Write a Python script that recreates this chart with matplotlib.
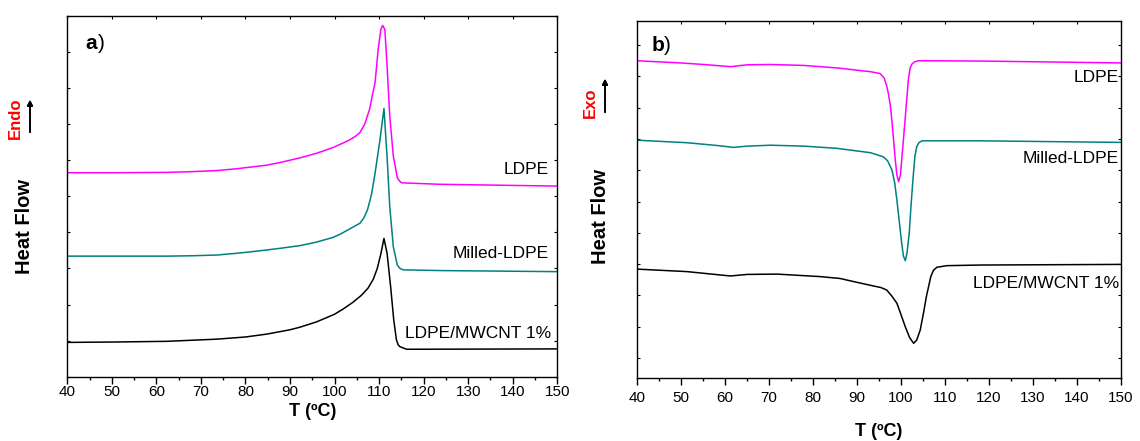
import numpy as np
import matplotlib.pyplot as plt
from matplotlib.ticker import MultipleLocator, FixedLocator

plt.rcParams['font.family'] = ['Liberation Sans', 'DejaVu Sans']

# Heating scans (a): temperature in ºC, heat flow in arbitrary units
t_ldpe_h = [40, 50, 62.4, 68, 73.6, 78, 84.8, 88, 92.2, 96.0, 99.7, 101.5, 103.4, 104.6, 105.7,
            106.8, 107.9, 108.5, 109.1, 109.8, 110.4, 110.8, 111.3, 111.8, 112.4, 113.2, 114.1,
            114.6, 115.1, 123.7, 150]
hf_ldpe_h = [5.65, 5.65, 5.66, 5.68, 5.71, 5.76, 5.86, 5.94, 6.06, 6.19, 6.35, 6.45, 6.56, 6.65,
             6.76, 7.0, 7.42, 7.8, 8.14, 9.07, 9.62, 9.73, 9.62, 8.61, 7.22, 6.11, 5.51,
             5.42, 5.37, 5.33, 5.28]

t_milled_h = [40, 50, 62.4, 68, 73.6, 79, 84.8, 88, 92.2, 96.0, 99.7, 101.6, 103.5, 105.7, 106.6,
              107.4, 108.3, 109.1, 110.2, 111.1, 111.8, 112.4, 113.2, 114.1, 114.7, 115.4,
              123.7, 150]
hf_milled_h = [3.34, 3.34, 3.34, 3.35, 3.37, 3.43, 3.51, 3.56, 3.63, 3.73, 3.86, 3.97, 4.10,
               4.25, 4.4, 4.62, 5.05, 5.63, 6.56, 7.43, 6.09, 4.71, 3.60, 3.09, 3.0, 2.96,
               2.94, 2.91]

t_cnt_h = [40, 50, 62.4, 68, 73.6, 80, 84.8, 90, 92.2, 96.0, 100, 102, 104, 106, 107.5, 108.7,
           109.6, 110.4, 111.1, 111.8, 112.6, 113.3, 113.9, 114.3, 114.7, 116.2, 150]
hf_cnt_h = [0.95, 0.96, 0.98, 1.01, 1.04, 1.10, 1.18, 1.30, 1.37, 1.52, 1.73, 1.88, 2.05, 2.25,
            2.45, 2.70, 3.00, 3.40, 3.83, 3.42, 2.49, 1.57, 1.02, 0.88, 0.83, 0.76, 0.77]

# Cooling scans (b)
t_ldpe_c = [40, 49.9, 55.2, 61.3, 65.1, 70.4, 77.9, 85.5, 93.1, 95.3, 96.2, 96.8, 97.2, 97.6,
            98.0, 98.7, 99.1, 99.5, 99.9, 100.2, 101.0, 101.7, 102.1, 102.5, 103.2, 104.0,
            118.0, 150]
hf_ldpe_c = [10.15, 10.08, 10.03, 9.96, 10.02, 10.03, 10.0, 9.92, 9.80, 9.74, 9.6, 9.34, 9.08,
             8.73, 8.19, 7.04, 6.5, 6.28, 6.5, 6.98, 8.32, 9.53, 9.91, 10.04, 10.12, 10.15,
             10.14, 10.08]

t_milled_c = [40, 51.4, 58.3, 62.0, 65.1, 70.4, 78.0, 85.5, 93.1, 96.0, 97.0, 98.0, 98.6, 99.1,
              100.2, 100.6, 101.0, 101.4, 101.9, 102.3, 102.8, 103.2, 103.6, 104.1, 104.8,
              118, 150]
hf_milled_c = [7.61, 7.53, 7.44, 7.38, 7.42, 7.45, 7.42, 7.35, 7.21, 7.08, 6.95, 6.65, 6.25,
               5.70, 4.31, 3.9, 3.76, 4.0, 4.63, 5.5, 6.44, 7.1, 7.40, 7.53, 7.59, 7.59, 7.54]

t_cnt_c = [40, 51.4, 61.3, 65.1, 71.9, 81.7, 86.2, 89.3, 93.8, 95.5, 96.8, 98.0, 99.1, 100.0,
           101.0, 102.0, 102.9, 103.6, 104.4, 105.1, 105.8, 106.8, 107.4, 108.2, 110.5, 118, 150]
hf_cnt_c = [3.49, 3.41, 3.27, 3.32, 3.33, 3.25, 3.19, 3.09, 2.95, 2.90, 2.82, 2.62, 2.40, 2.05,
            1.65, 1.30, 1.12, 1.22, 1.54, 2.05, 2.61, 3.25, 3.45, 3.55, 3.60, 3.62, 3.64]

names = ['LDPE', 'Milled-LDPE', 'LDPE/MWCNT 1%']
colors = ['#ff00ff', '#008080', '#000000']

fig = plt.figure(figsize=(11.4, 4.41), dpi=100)
axa = fig.add_axes([0.0590, 0.1458, 0.4298, 0.8186])
axb = fig.add_axes([0.5585, 0.1422, 0.4248, 0.8109])

for t, hf, c in zip([t_ldpe_h, t_milled_h, t_cnt_h], [hf_ldpe_h, hf_milled_h, hf_cnt_h], colors):
    axa.plot(t, hf, color=c, lw=1.1)
for t, hf, c in zip([t_ldpe_c, t_milled_c, t_cnt_c], [hf_ldpe_c, hf_milled_c, hf_cnt_c], colors):
    axb.plot(t, hf, color=c, lw=1.1)

axa.set_ylim(0, 10)
axb.set_ylim(0, 11.43)
axa.yaxis.set_major_locator(MultipleLocator(1))
axb.yaxis.set_major_locator(FixedLocator(np.arange(0.65, 11.4, 1.0)))

for ax, pad in [(axa, 1.0), (axb, 4.5)]:
    ax.set_xlim(40, 150)
    ax.xaxis.set_major_locator(MultipleLocator(10))
    ax.xaxis.set_minor_locator(MultipleLocator(5))
    ax.tick_params(axis='x', which='major', direction='out', length=5, width=1, labelsize=11, pad=pad)
    ax.tick_params(axis='x', which='minor', direction='out', length=2.5, width=1)
    ax.tick_params(axis='y', which='major', direction='in', length=2.5, width=0.8,
                   left=True, right=True, labelleft=False)
    for s in ax.spines.values():
        s.set_linewidth(1.0)
    # short inward ticks along the top frame
    top = ax.secondary_xaxis('top')
    top.xaxis.set_major_locator(MultipleLocator(10))
    top.tick_params(direction='in', length=2.5, width=0.8, labeltop=False)
    top.spines['top'].set_visible(False)

# curve labels
lab_a = [(0.983, 0.575), (0.983, 0.342), (0.988, 0.119)]
lab_b = [(0.996, 0.840), (0.996, 0.616), (0.996, 0.266)]
for (x, y), n in zip(lab_a, names):
    axa.text(x, y, n, ha='right', va='center', fontsize=12.5, transform=axa.transAxes)
for (x, y), n in zip(lab_b, names):
    axb.text(x, y, n, ha='right', va='center', fontsize=12.5, transform=axb.transAxes)

# panel letters
axa.text(0.036, 0.924, 'a', fontsize=15, fontweight='bold', va='center', transform=axa.transAxes)
axa.text(0.0616, 0.924, ')', fontsize=15, va='center', transform=axa.transAxes)
axb.text(0.031, 0.932, 'b', fontsize=15, fontweight='bold', va='center', transform=axb.transAxes)
axb.text(0.0564, 0.932, ')', fontsize=15, va='center', transform=axb.transAxes)

# axis titles
fig.text(313 / 1140, 1 - 412 / 441, 'T (ºC)', ha='center', va='center', fontsize=13, fontweight='bold')
fig.text(879 / 1140, 1 - 431 / 441, 'T (ºC)', ha='center', va='center', fontsize=13, fontweight='bold')
fig.text(25 / 1140, 1 - 227 / 441, 'Heat Flow', rotation=90, ha='center', va='center',
         fontsize=14.5, fontweight='bold')
fig.text(600 / 1140, 1 - 217 / 441, 'Heat Flow', rotation=90, ha='center', va='center',
         fontsize=14.5, fontweight='bold')

# direction indicators
fig.text(15 / 1140, 1 - 118 / 441, 'Endo', rotation=90, ha='center', va='center',
         fontsize=12, fontweight='bold', color='red')
fig.text(590 / 1140, 1 - 103 / 441, 'Exo', rotation=90, ha='center', va='center',
         fontsize=12, fontweight='bold', color='red')
for x, y0, y1 in [(30, 135, 97), (605, 115, 76)]:
    fig.add_artist(plt.annotate('', xy=(x / 1140, 1 - y1 / 441), xytext=(x / 1140, 1 - y0 / 441),
                                xycoords='figure fraction', textcoords='figure fraction',
                                arrowprops=dict(arrowstyle='-|>', color='black', lw=1.2,
                                                mutation_scale=8)))

fig.savefig('out.png', dpi=100)
